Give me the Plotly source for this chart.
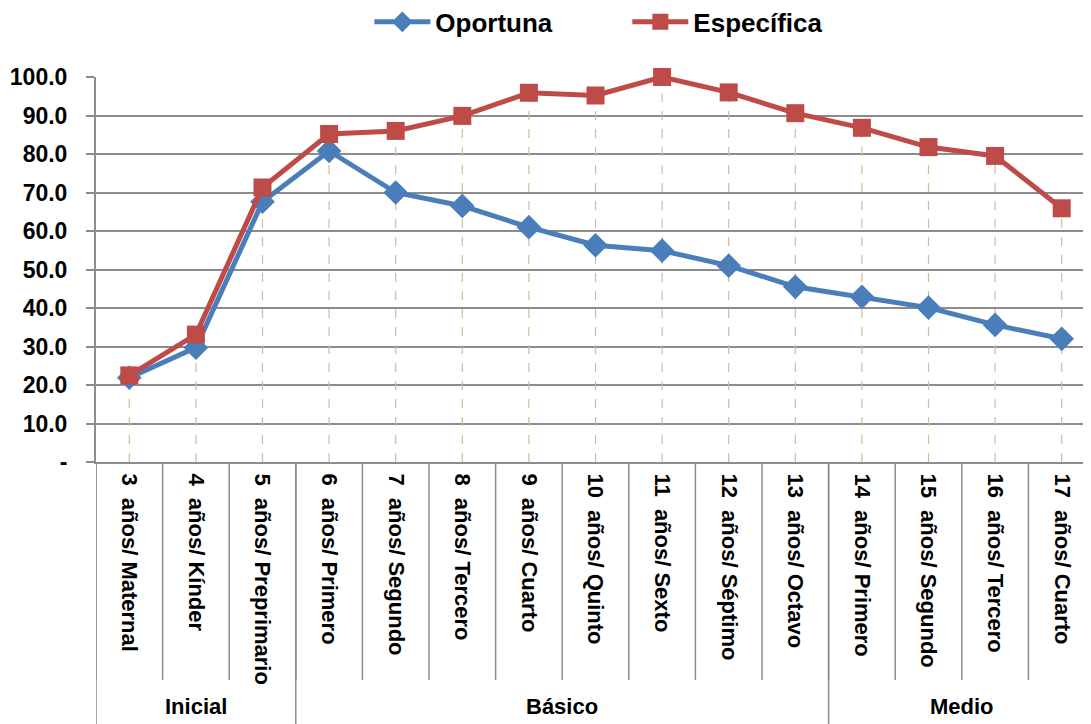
import plotly.graph_objects as go

# Data
categorias = ["3  años/ Maternal", "4  años/ Kínder", "5  años/ Preprimario",
              "6  años/ Primero", "7  años/ Segundo", "8  años/ Tercero",
              "9  años/ Cuarto", "10  años/ Quinto", "11  años/ Sexto",
              "12  años/ Séptimo", "13  años/ Octavo", "14  años/ Primero",
              "15  años/ Segundo", "16  años/ Tercero", "17  años/ Cuarto"]
niveles = ["Inicial", "Básico", "Medio"]
niveles_n = [3, 8, 4]  # categories per level
oportuna = [21.9, 29.7, 67.6, 80.8, 70.0, 66.5, 61.0, 56.3, 54.9, 51.0, 45.5, 42.9, 40.1, 35.6, 32.0]
especifica = [22.5, 33.1, 71.3, 85.2, 86.0, 89.9, 95.9, 95.2, 100.0, 96.0, 90.6, 86.8, 81.8, 79.5, 65.9]
y_ticks = [0, 10, 20, 30, 40, 50, 60, 70, 80, 90, 100]
y_labels = ["-"] + [f"{v:.1f}" for v in y_ticks[1:]]

BLUE = "#4A7EBB"
RED = "#BE4B48"
GRID = "#8C8C8C"
DROP = "#CDBF94"
FONT = "Liberation Sans"

x = list(range(len(categorias)))

fig = go.Figure()

# Drop lines from the highest point down to the axis
dx, dy = [], []
for i in x:
    dx += [i, i, None]
    dy += [0, max(oportuna[i], especifica[i]), None]
fig.add_trace(go.Scatter(x=dx, y=dy, mode="lines", showlegend=False, hoverinfo="skip",
                         line=dict(color=DROP, width=1.2, dash="dash")))

fig.add_trace(go.Scatter(x=x, y=oportuna, name="Oportuna", mode="lines+markers",
                         line=dict(color=BLUE, width=5),
                         marker=dict(symbol="diamond", size=19, color=BLUE),
                         cliponaxis=False))
fig.add_trace(go.Scatter(x=x, y=especifica, name="Específica", mode="lines+markers",
                         line=dict(color=RED, width=5),
                         marker=dict(symbol="square", size=18, color=RED),
                         cliponaxis=False))

# Category separators below the axis
shapes = []
for i in range(len(categorias) + 1):
    shapes.append(dict(type="line", xref="x", yref="paper", x0=i - 0.5, x1=i - 0.5,
                       y0=0, y1=-0.566, line=dict(color=GRID, width=1.5)))
# Level separators and labels
annotations = []
start = 0
bounds = [0]
for name, n in zip(niveles, niveles_n):
    annotations.append(dict(x=start + (n - 1) / 2, y=-0.672, xref="x", yref="paper",
                            text=name, showarrow=False,
                            font=dict(family=FONT, size=22, color="black", weight="bold")))
    start += n
    bounds.append(start)
for b in bounds:
    shapes.append(dict(type="line", xref="x", yref="paper", x0=b - 0.5, x1=b - 0.5,
                       y0=0, y1=-0.7, line=dict(color=GRID, width=1.5)))

# page body has an 8px margin, so the figure is a bit smaller than the window
fig.update_layout(
    width=1083, height=716,
    margin=dict(l=88, r=0, t=69, b=262, autoexpand=False),
    paper_bgcolor="white", plot_bgcolor="white",
    font=dict(family=FONT, color="black"),
    showlegend=True,
    legend=dict(orientation="h", x=0.534, xanchor="center", y=1.143, yanchor="middle",
                font=dict(family=FONT, size=26, color="black", weight="bold"),
                itemwidth=56, entrywidth=187),
    shapes=shapes,
    annotations=annotations,
)
fig.update_xaxes(range=[-0.5, 14.44], tickvals=x, ticktext=categorias, automargin=False,
                 tickangle=90, tickfont=dict(family=FONT, size=22, color="black", weight="bold"),
                 ticklabelstandoff=5,
                 showgrid=False, zeroline=False, showline=True, linecolor=GRID, linewidth=2,
                 ticks="")
fig.update_yaxes(range=[0, 100], tickvals=y_ticks, ticktext=y_labels, automargin=False,
                 tickfont=dict(family=FONT, size=23, color="black", weight="bold"),
                 ticklabelstandoff=14,
                 showgrid=True, gridcolor=GRID, gridwidth=2, zeroline=False,
                 showline=True, linecolor=GRID, linewidth=2,
                 ticks="outside", ticklen=8, tickcolor=GRID, tickwidth=2)

fig.write_html("out.html")
